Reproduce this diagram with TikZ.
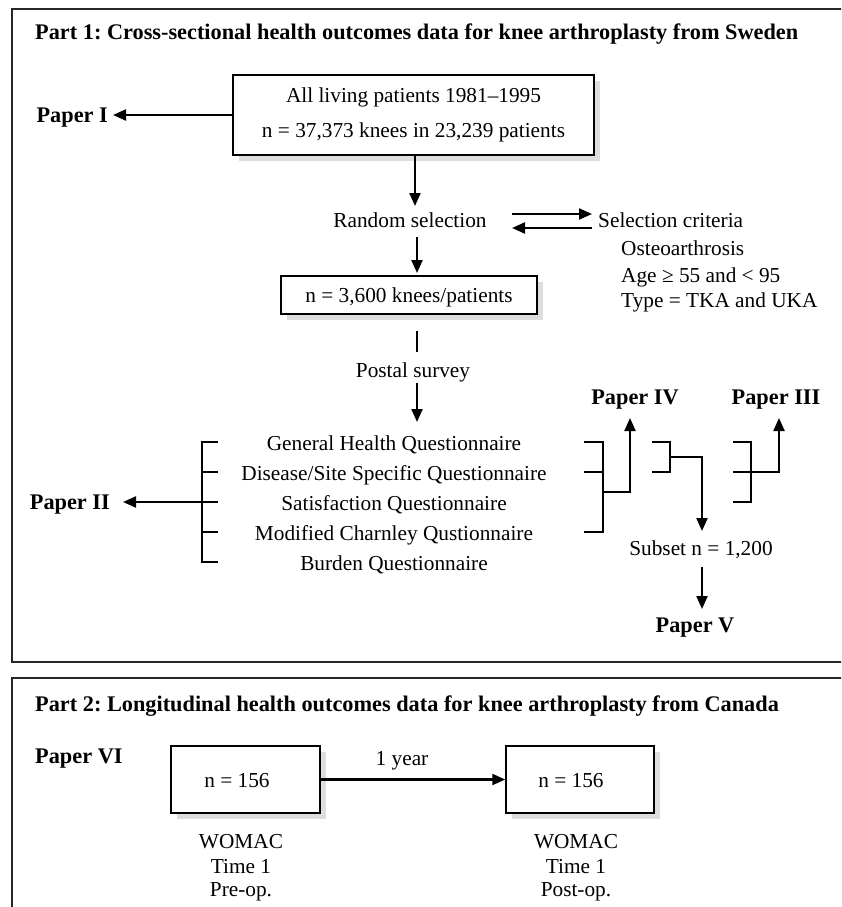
\documentclass[tikz,border=0pt]{standalone}
\usepackage{fontspec}
\setmainfont{Liberation Serif}
\newfontfamily\tfont{Liberation Serif}
\usetikzlibrary{arrows.meta}
\frenchspacing
\begin{document}
\begin{tikzpicture}[x=1pt,y=-1pt,
  txt/.style={font=\fontsize{21.3}{25}\selectfont, inner sep=0pt},
  btxt/.style={font=\tfont\bfseries\fontsize{22.3}{26}\selectfont, inner sep=0pt},
  conn/.style={line width=2.2pt, -{Triangle[length=13pt,width=11pt]}},
  plain/.style={line width=2.2pt},
  brk/.style={line width=2.2pt},
  frame/.style={line width=1.4pt, draw=black!85},
  box/.style={draw, line width=1.5pt, fill=white, inner sep=0pt},
  shade/.style={fill=black!13}
]
\useasboundingbox (0,0) rectangle (841,907);
\clip (0,0) rectangle (841,907);

% frames
\draw[frame] (860,9) -- (12,9) -- (12,662) -- (860,662);
\draw[frame] (860,678) -- (12,678) -- (12,920);

% titles
\node[btxt, anchor=base west] (t1) at (35,40) {Part 1: Cross-sectional health outcomes data for knee arthroplasty from Sweden};
\node[btxt, anchor=base west] (t2) at (35,711) {Part 2: Longitudinal health outcomes data for knee arthroplasty from Canada};

% box 1
\fill[shade] (239,81) rectangle (600,161);
\node[box, minimum width=361pt, minimum height=80pt] (b1) at (413.5,115) {};
\node[txt, anchor=base] (b1a) at (413.5,102) {All living patients 1981--1995};
\node[txt, anchor=base] (b1b) at (413.5,137) {n = 37,373 knees in 23,239 patients};

\node[btxt, anchor=base east] (p1) at (108,122) {Paper I};
\draw[conn, shorten >=5pt] (b1.west) -- (p1.east |- b1.west);

% random selection
\node[txt, anchor=base] (rs) at (410,227) {Random selection};
\coordinate (a1s) at (415,155);
\draw[conn] (b1.south -| a1s) -- (415,206);

\node[txt, anchor=base west] (sc) at (598,227) {Selection criteria};
\node[txt, anchor=base west] (c1) at (621,255) {Osteoarthrosis};
\node[txt, anchor=base west] (c2) at (621,282) {Age ≥ 55 and < 95};
\node[txt, anchor=base west] (c3) at (621,307) {Type = TKA and UKA};
\coordinate (ra1) at (512,214);
\coordinate (ra2) at (592,214);
\coordinate (rb1) at (592,228);
\coordinate (rb2) at (512,228);
\draw[conn] (ra1) -- (ra2);
\draw[conn] (rb1) -- (rb2);

% box 2
\fill[shade] (287,282) rectangle (543,320);
\node[box, minimum width=256pt, minimum height=38pt] (b2) at (409,295) {};
\node[txt, anchor=base] (b2t) at (409,302) {n = 3,600 knees/patients};
\draw[conn] (417,237) -- (417,273);

\draw[plain] (417,331) -- (417,352);
\node[txt, anchor=base] (ps) at (413,377) {Postal survey};
\draw[conn] (417,383) -- (417,422);

% questionnaires
\node[txt, anchor=base] (q1) at (394,450) {General Health Questionnaire};
\node[txt, anchor=base] (q2) at (394,480) {Disease/Site Specific Questionnaire};
\node[txt, anchor=base] (q3) at (394,510) {Satisfaction Questionnaire};
\node[txt, anchor=base] (q4) at (394,540) {Modified Charnley Qustionnaire};
\node[txt, anchor=base] (q5) at (394,570) {Burden Questionnaire};

% left bracket -> Paper II
\draw[brk] (218,442) -- (202,442) -- (202,562) -- (218,562);
\draw[brk] (202,472) -- (218,472);
\draw[brk] (202,532) -- (218,532);
\draw[brk] (202,502) -- (218,502);
\node[btxt, anchor=base east] (p2) at (110,509) {Paper II};
\draw[conn] (202,502) -- (123,502);

% bracket -> Paper IV
\draw[brk] (584,442) -- (603,442) -- (603,532) -- (584,532);
\draw[brk] (584,472) -- (603,472);
\node[btxt, anchor=base] (p4) at (635,404) {Paper IV};
\draw[conn] (603,492) -- (630,492) -- (630,418);

% bracket -> Subset
\draw[brk] (652,442) -- (670,442) -- (670,472) -- (652,472);
\node[txt, anchor=base] (sub) at (701,555) {Subset n = 1,200};
\draw[conn] (670,457) -- (702,457) -- (702,531);
\node[btxt, anchor=base] (p5) at (695,632) {Paper V};
\draw[conn] (702,567) -- (702,609);

% bracket -> Paper III
\draw[brk] (733,442) -- (751,442) -- (751,502) -- (733,502);
\draw[conn] (733,472) -- (779,472) -- (779,418);
\node[btxt, anchor=base] (p3) at (776,404) {Paper III};

% part 2
\node[btxt, anchor=base west] (p6) at (35,763) {Paper VI};
\fill[shade] (177,752) rectangle (326,819);
\node[box, minimum width=149pt, minimum height=67pt] (b3) at (245.5,779.5) {};
\node[txt, anchor=base] (b3t) at (237,787) {n = 156};
\fill[shade] (512,752) rectangle (660,819);
\node[box, minimum width=148pt, minimum height=67pt] (b4) at (580,779.5) {};
\node[txt, anchor=base] (b4t) at (571,787) {n = 156};
\draw[conn] (b3.east) -- (b4.west);
\node[txt, anchor=base] (yr) at (402,765) {1 year};

\node[txt, anchor=base] (w1) at (241,848) {WOMAC};
\node[txt, anchor=base] (w2) at (241,873) {Time 1};
\node[txt, anchor=base] (w3) at (241,896) {Pre-op.};
\node[txt, anchor=base] (v1) at (576,848) {WOMAC};
\node[txt, anchor=base] (v2) at (576,873) {Time 1};
\node[txt, anchor=base] (v3) at (576,896) {Post-op.};
\end{tikzpicture}
\end{document}
